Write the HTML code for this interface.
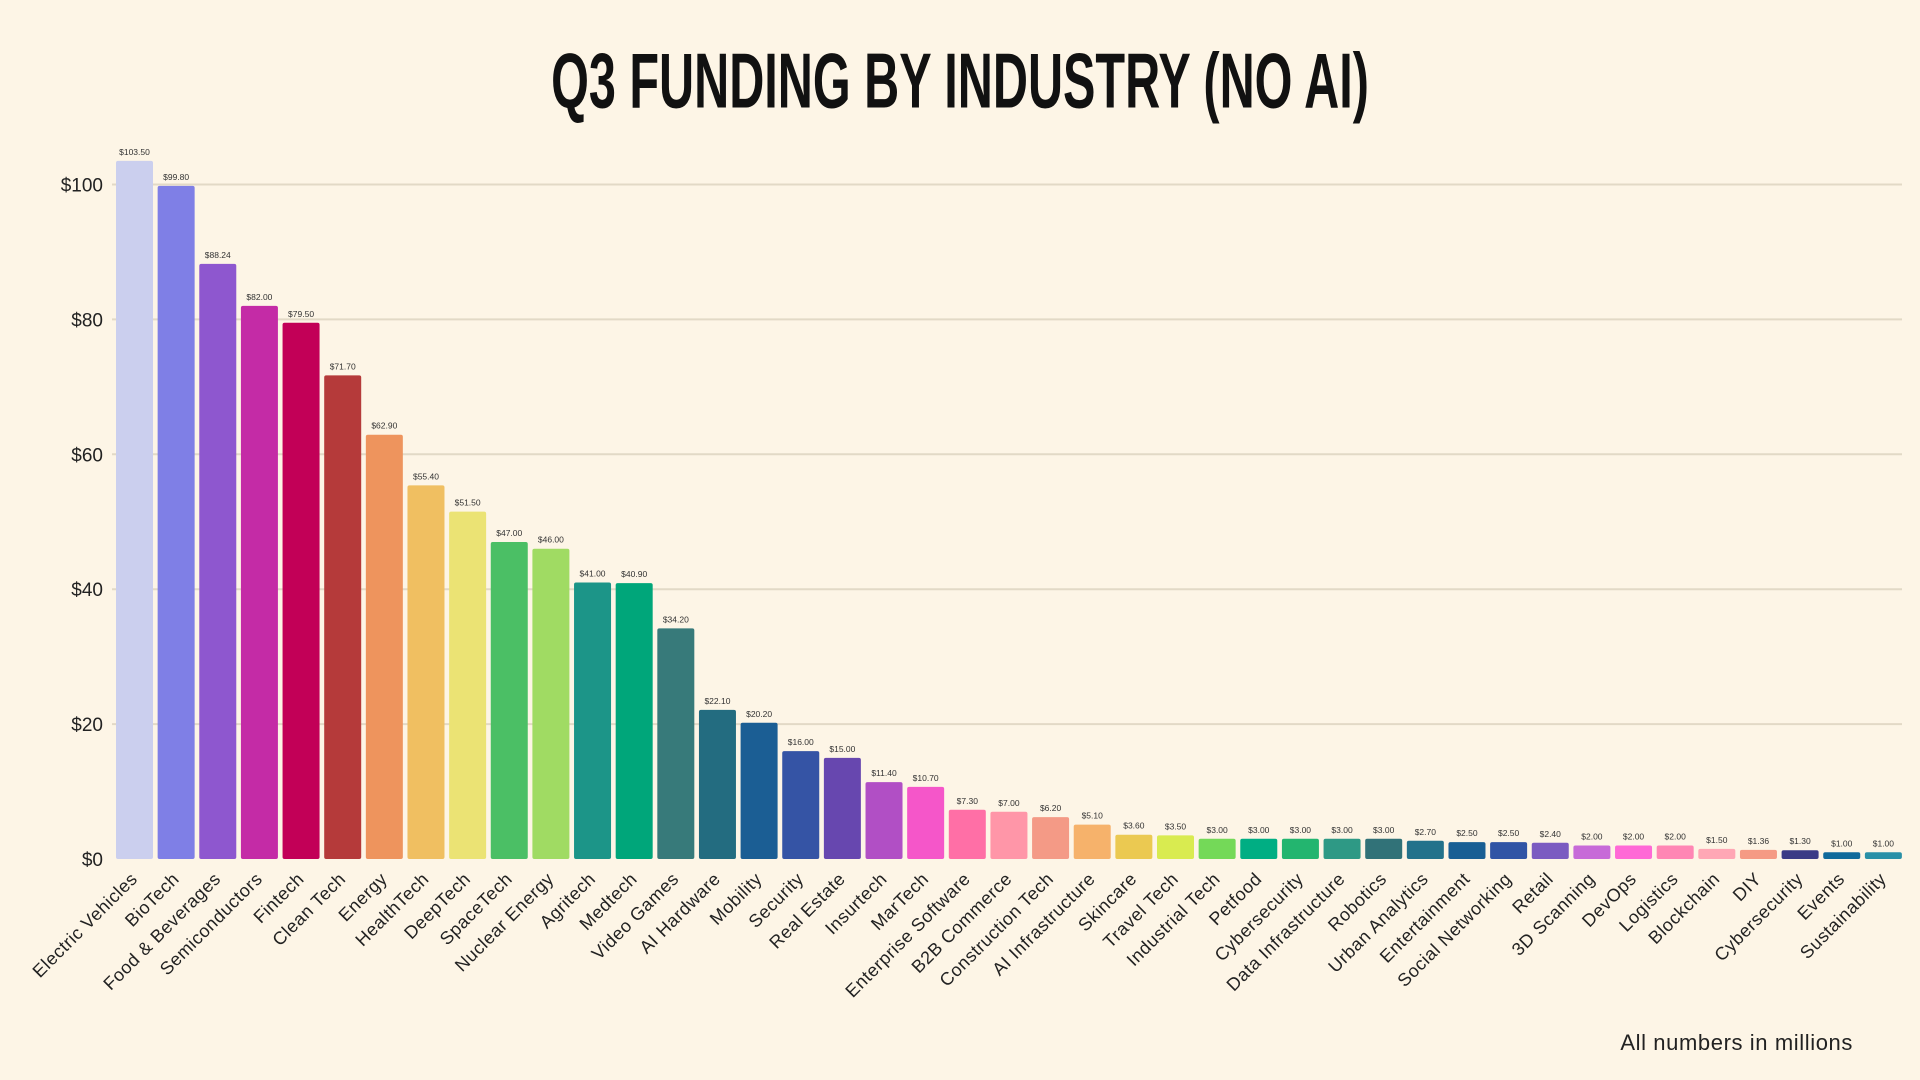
<!DOCTYPE html>
<html><head><meta charset="utf-8"><style>
html,body{margin:0;padding:0;background:#fdf5e6;}
svg{display:block;font-family:"Liberation Sans",sans-serif;}
</style></head><body>
<svg id="chart" width="1920" height="1080" viewBox="0 0 1920 1080">
<rect width="1920" height="1080" fill="#fdf5e6"/>
<text x="960" y="110" text-anchor="middle" font-family="'Liberation Sans Narrow','Liberation Sans',sans-serif" font-weight="bold" font-size="86" fill="#111" transform="translate(960,0) scale(0.565,0.91) translate(-960,8)">Q3 FUNDING BY INDUSTRY (NO AI)</text>
<g id="grid"></g>
<g id="yaxis"></g>
<g id="bars"></g>
<g id="xlabels"></g>
<text x="1853" y="1050" text-anchor="end" font-size="22" letter-spacing="0.6" fill="#222">All numbers in millions</text>
</svg>
<script>
const categories=["Electric Vehicles","BioTech","Food & Beverages","Semiconductors","Fintech","Clean Tech","Energy","HealthTech","DeepTech","SpaceTech","Nuclear Energy","Agritech","Medtech","Video Games","AI Hardware","Mobility","Security","Real Estate","Insurtech","MarTech","Enterprise Software","B2B Commerce","Construction Tech","AI Infrastructure","Skincare","Travel Tech","Industrial Tech","Petfood","Cybersecurity","Data Infrastructure","Robotics","Urban Analytics","Entertainment","Social Networking","Retail","3D Scanning","DevOps","Logistics","Blockchain","DIY","Cybersecurity","Events","Sustainability"];
const values=[103.5,99.8,88.24,82,79.5,71.7,62.9,55.4,51.5,47,46,41,40.9,34.2,22.1,20.2,16,15,11.4,10.7,7.3,7,6.2,5.1,3.6,3.5,3,3,3,3,3,2.7,2.5,2.5,2.4,2,2,2,1.5,1.36,1.3,1,1];
const colors=["#cbcfee","#7f7fe6","#8e57cf","#c42ba6","#c20057","#b53a3a","#ee945d","#f0bf61","#ebe374","#4bbf65","#a0db63","#1c9588","#00a67a","#377a7a","#236c80","#1b5e94","#3554a5","#6747af","#b14fc5","#f556c9","#ff6fa6","#ff96a8","#f49a86","#f6b26b","#ebc951","#d9eb50","#74d958","#00ae83","#23b56f","#2e9985","#317278","#23728b","#195f94","#3054a5","#7b5bc1","#c76ad8","#ff69d6","#ff86b4","#ffa7b5","#f59a84","#3b3b86","#106a9b","#2990a7"];
const yTicks=[0,20,40,60,80,100];
const NS="http://www.w3.org/2000/svg";
const y0=859, pxPer=6.745, xStart=116, pitch=41.64, bw=37;
function yScale(v){return y0-v*pxPer;}
function xScale(i){return xStart+i*pitch;}
function mk(tag,attrs,parent){const e=document.createElementNS(NS,tag);for(const k in attrs)e.setAttribute(k,attrs[k]);parent.appendChild(e);return e;}
const grid=document.getElementById('grid'),yaxis=document.getElementById('yaxis'),bars=document.getElementById('bars'),xl=document.getElementById('xlabels');
yTicks.forEach(t=>{
  const y=yScale(t);
  if(t>0){const l=mk('line',{x1:112,x2:1902,y1:y,y2:y,stroke:'#e2d9c6','stroke-width':2},grid);
  
  }
  const tx=mk('text',{x:103,y:y+7,'text-anchor':'end','font-size':19,fill:'#222'},yaxis);
  tx.textContent='$'+t;
  
  
});
values.forEach((v,i)=>{
  const x=xScale(i), y=yScale(v), h=y0-y;
  const r=mk('rect',{x:x,y:y,width:bw,height:Math.max(h,1),rx:2,fill:colors[i]},bars);
  
  
  const vl=mk('text',{x:x+bw/2,y:y-6,'text-anchor':'middle','font-size':8.5,fill:'#333'},bars);
  vl.textContent='$'+v.toFixed(2);
  
  
  const cx=x+bw/2+4, cy=880;
  const lb=mk('text',{x:cx,y:cy,'text-anchor':'end','font-size':18,'letter-spacing':0.5,fill:'#222',transform:'rotate(-45 '+cx+' '+cy+')'},xl);
  lb.textContent=categories[i];
  
  
});
</script>
</body></html>
